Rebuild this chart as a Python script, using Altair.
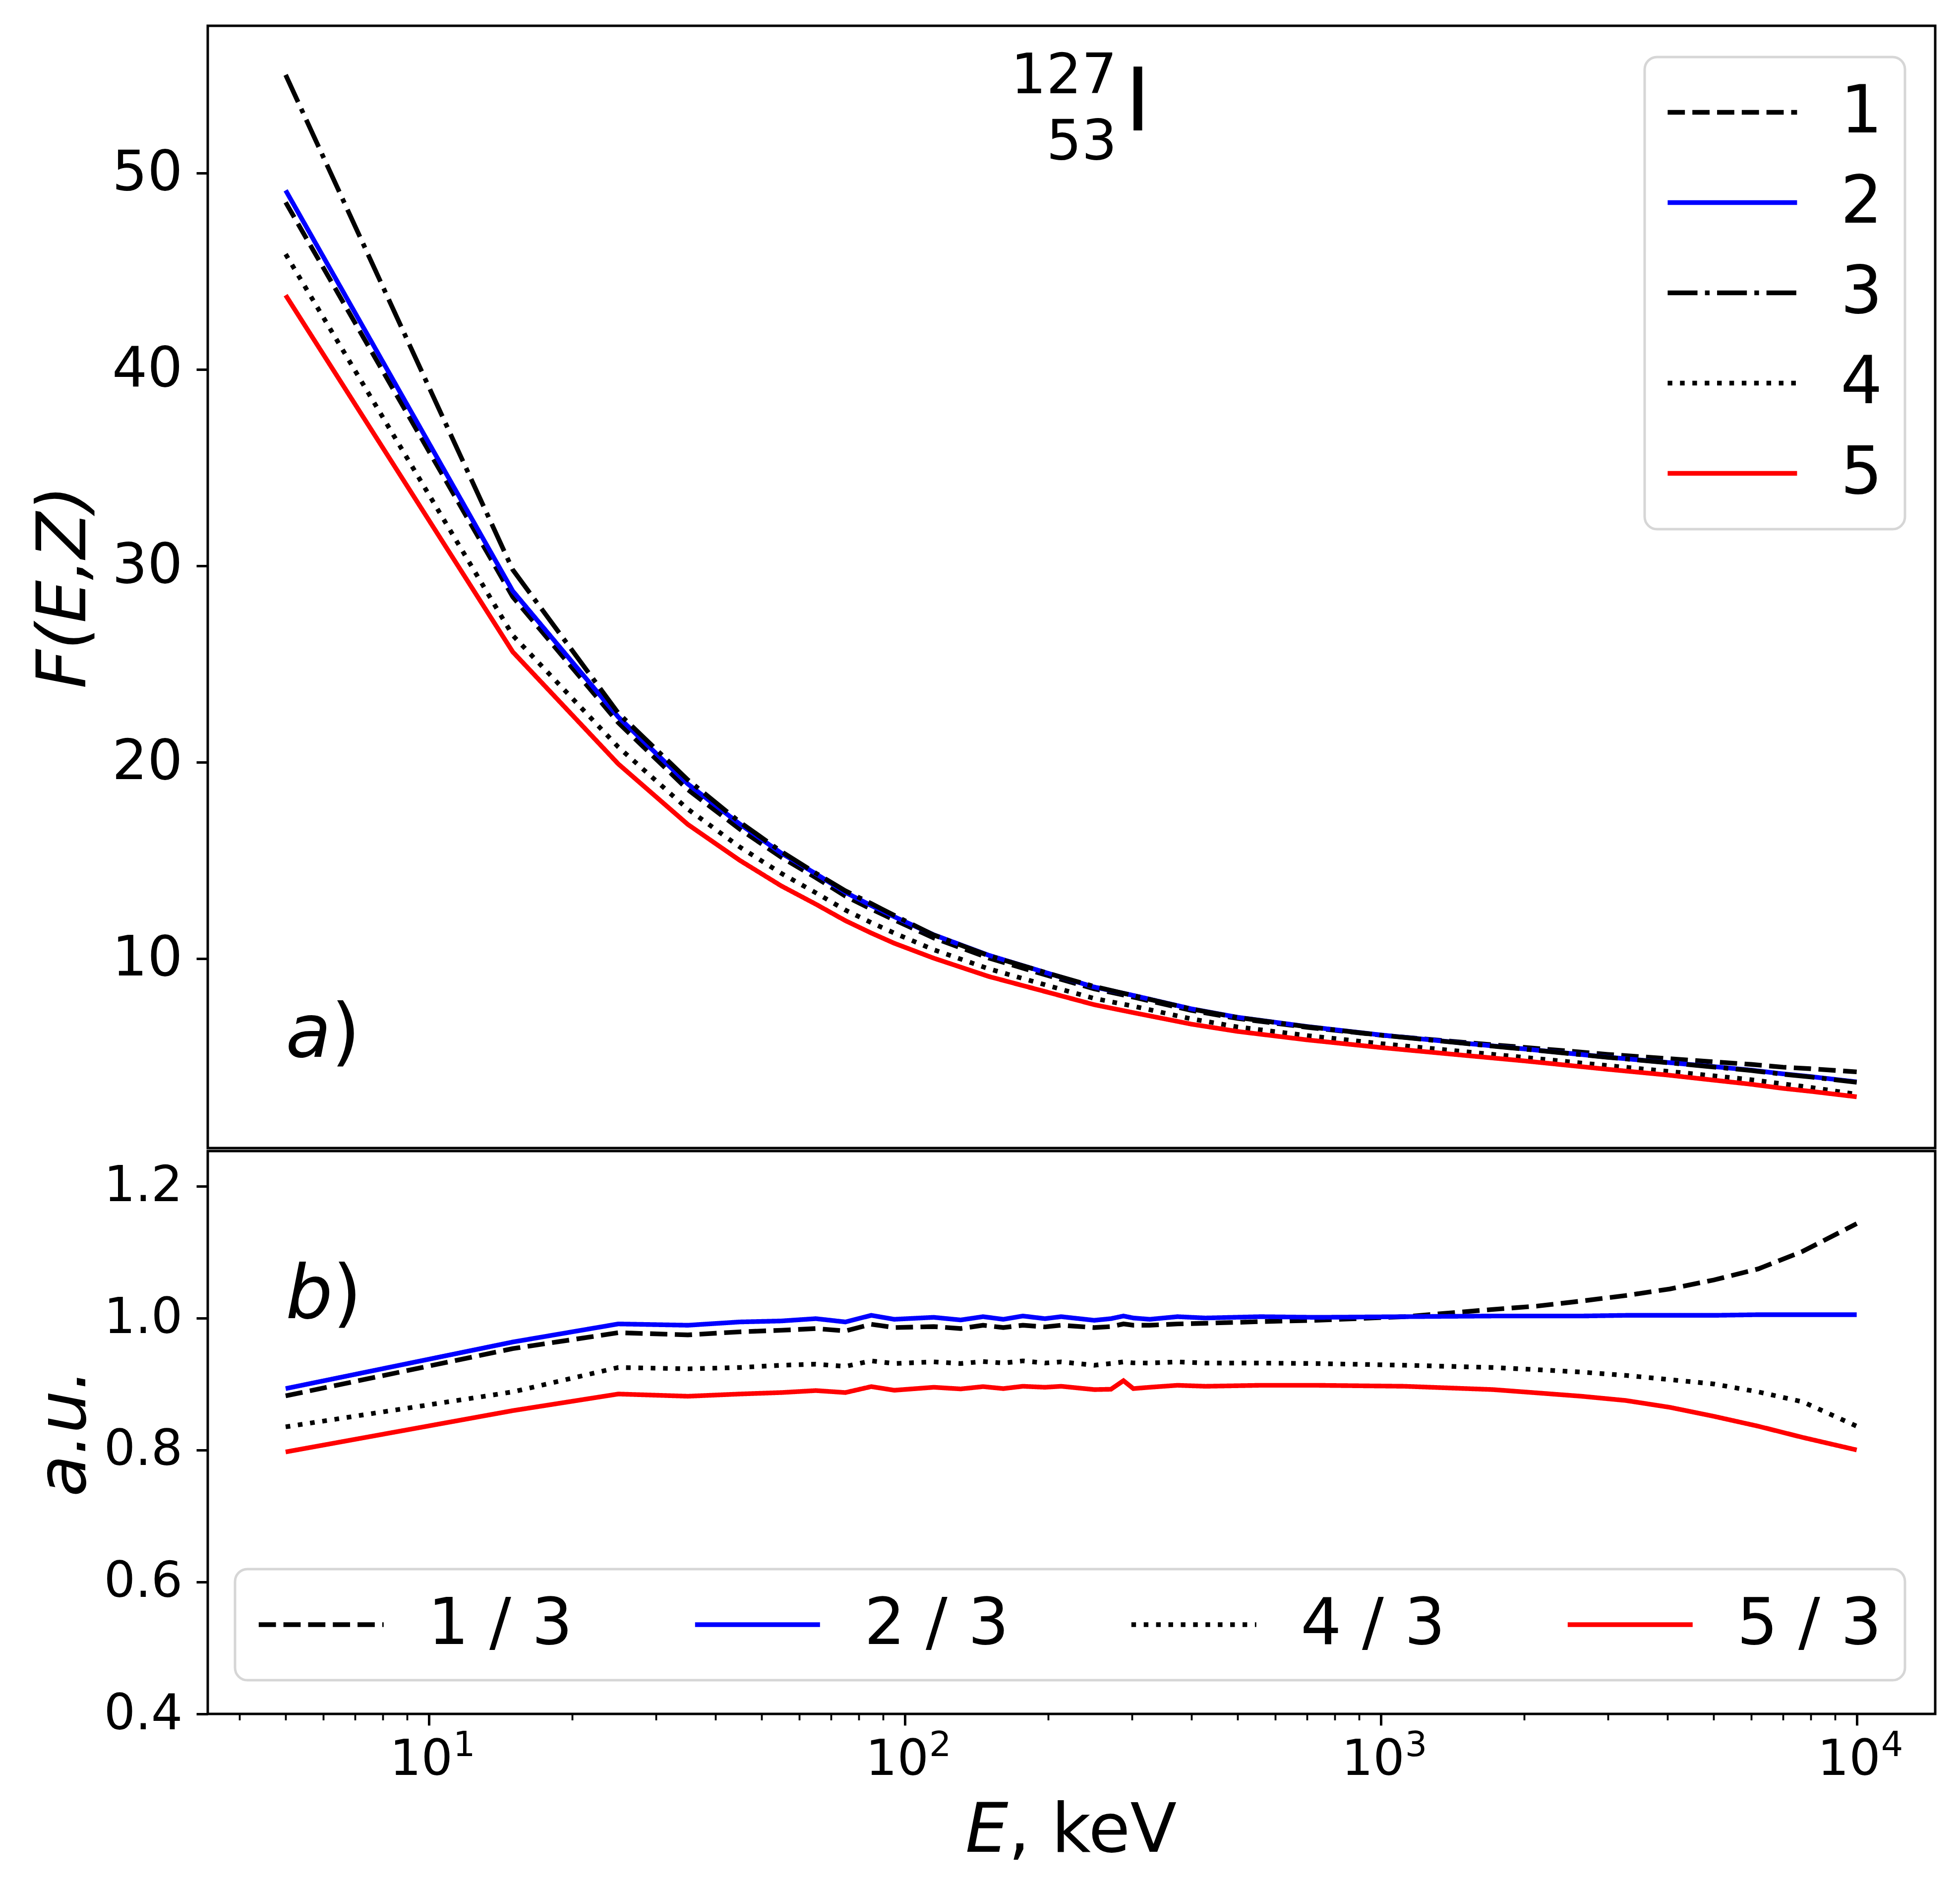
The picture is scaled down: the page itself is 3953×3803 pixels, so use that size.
import altair as alt
import pandas as pd

# ---------------- upper panel: F(E,Z) ----------------
E_top = [5, 15, 25, 35, 45, 55, 65, 75, 85, 95, 115, 150, 200, 250, 300, 400, 500,
         700, 1000, 1500, 2000, 3000, 4000, 5000, 6000, 7000, 8000, 10000]
F1 = [48.51, 28.42, 22.01, 18.60, 16.59, 15.16, 14.12, 13.18, 12.52, 11.97, 11.05, 10.03,
      9.13, 8.46, 8.05, 7.36, 6.95, 6.50, 6.10, 5.73, 5.48, 5.12, 4.91, 4.74, 4.61, 4.47, 4.39, 4.23]
F2 = [49.12, 28.72, 22.30, 18.89, 16.85, 15.37, 14.32, 13.37, 12.70, 12.13, 11.21, 10.17,
      9.25, 8.55, 8.14, 7.44, 7.01, 6.54, 6.11, 5.69, 5.40, 4.98, 4.71, 4.50, 4.32, 4.13, 3.99, 3.72]
F3 = [55.0, 29.8, 22.5, 19.1, 16.95, 15.45, 14.35, 13.45, 12.8, 12.2, 11.2, 10.15,
      9.25, 8.58, 8.13, 7.43, 7.0, 6.53, 6.1, 5.68, 5.39, 4.97, 4.70, 4.48, 4.30, 4.11, 3.97, 3.70]
F4 = [45.87, 26.46, 20.77, 17.61, 15.68, 14.34, 13.35, 12.47, 11.83, 11.30, 10.45, 9.48,
      8.62, 7.97, 7.59, 6.93, 6.52, 6.08, 5.67, 5.26, 4.97, 4.55, 4.26, 4.03, 3.83, 3.62, 3.44, 3.09]
F5 = [43.78, 25.62, 19.91, 16.83, 15.00, 13.70, 12.77, 11.93, 11.30, 10.78, 10.02, 9.09,
      8.28, 7.65, 7.26, 6.66, 6.29, 5.86, 5.47, 5.07, 4.79, 4.36, 4.07, 3.81, 3.60, 3.39, 3.24, 2.96]

# ---------------- lower panel: ratios ----------------
E_bot = [5, 15, 25, 35, 45, 55, 65, 75, 85, 95, 115, 131, 146, 161, 177, 197, 213, 250,
         271, 288, 302, 327, 374, 428, 559, 731, 1122, 1720, 2130, 2640, 3270, 4050,
         5010, 6210, 7700, 10000]
R13 = [0.882, 0.9536, 0.9777, 0.9744, 0.979, 0.9814, 0.984, 0.9804, 0.9905, 0.9855, 0.987,
       0.984, 0.989, 0.9855, 0.989, 0.9865, 0.989, 0.9855, 0.987, 0.991, 0.989, 0.989, 0.991,
       0.992, 0.9945, 0.9965, 1.002, 1.013, 1.018, 1.0257, 1.034, 1.044, 1.0576, 1.0744,
       1.101, 1.143]
R23 = [0.893, 0.9636, 0.991, 0.989, 0.994, 0.9955, 0.999, 0.994, 1.004, 0.998, 1.001, 0.997,
       1.002, 0.998, 1.003, 0.999, 1.002, 0.9965, 0.999, 1.003, 1.000, 0.998, 1.002, 1.000,
       1.002, 1.001, 1.002, 1.003, 1.003, 1.003, 1.004, 1.004, 1.004, 1.005, 1.005, 1.005]
R43 = [0.835, 0.888, 0.925, 0.923, 0.925, 0.9284, 0.930, 0.9267, 0.935, 0.931, 0.9335, 0.931,
       0.934, 0.9317, 0.935, 0.9317, 0.9335, 0.9284, 0.931, 0.9335, 0.932, 0.9317, 0.9335,
       0.9317, 0.9317, 0.931, 0.9284, 0.925, 0.9217, 0.918, 0.913, 0.9066, 0.900, 0.888,
       0.873, 0.836]
R53 = [0.797, 0.8596, 0.8848, 0.8814, 0.8848, 0.887, 0.890, 0.887, 0.896, 0.8905, 0.895,
       0.8925, 0.896, 0.893, 0.8965, 0.895, 0.8965, 0.8915, 0.892, 0.905, 0.893, 0.895, 0.898,
       0.8965, 0.898, 0.898, 0.8965, 0.8915, 0.8865, 0.8814, 0.875, 0.8646, 0.851, 0.836,
       0.819, 0.800]

top_names = ["1", "2", "3", "4", "5"]
top_colors = ["#000000", "#0000ff", "#000000", "#000000", "#ff0000"]
bot_names = ["1 / 3", "2 / 3", "4 / 3", "5 / 3"]
bot_colors = ["#000000", "#0000ff", "#000000", "#ff0000"]

LW = 9.4
DASHED = [3.7 * LW, 1.6 * LW]
SOLID = [1, 0]
DASHDOT = [6.4 * LW, 1.6 * LW, 1.0 * LW, 1.6 * LW]
DOTTED = [1.0 * LW, 1.65 * LW]
top_dash = [DASHED, SOLID, DASHDOT, DOTTED, SOLID]
bot_dash = [DASHED, SOLID, DOTTED, SOLID]

x_major = [10, 100, 1000, 10000]
x_exponents = ["1", "2", "3", "4"]
x_ticks = [4, 5, 6, 7, 8, 9, 10, 20, 30, 40, 50, 60, 70, 80, 90, 100, 200, 300, 400, 500,
           600, 700, 800, 900, 1000, 2000, 3000, 4000, 5000, 6000, 7000, 8000, 9000, 10000]

rows = []
for name, vals in zip(top_names, [F1, F2, F3, F4, F5]):
    for e, v in zip(E_top, vals):
        rows.append({"E": e, "F": v, "series": name})
df_top = pd.DataFrame(rows)

rows = []
for name, vals in zip(bot_names, [R13, R23, R43, R53]):
    for e, v in zip(E_bot, vals):
        rows.append({"E": e, "R": v, "series": name})
df_bot = pd.DataFrame(rows)

FONT = "DejaVu Sans"
W = 3484
H_TOP = 2263
H_BOT = 1135
X_DOMAIN = [3.43, 14620]

xscale = alt.Scale(type="log", domain=X_DOMAIN, nice=False)

# legend symbol: horizontal segment drawn from a custom path (length = 5*sqrt(size))
SYM_PATH = "M-1,0H9"
legend_common = dict(
    title=None, orient="none", symbolType=SYM_PATH, symbolStrokeWidth=LW,
    labelFont=FONT, labelColor="black", fillColor="white", strokeColor="#d6d6d6",
    cornerRadius=25, labelLimit=0,
)

top_legend = alt.Legend(
    legendX=2898, legendY=63, direction="vertical", symbolSize=2725,
    labelFontSize=133, labelOffset=256, symbolOffset=-39, padding=45, rowPadding=48,
    **legend_common
)
bot_legend = alt.Legend(
    legendX=55, legendY=843, direction="horizontal", columns=4, columnPadding=228,
    symbolSize=2540, labelFontSize=130, labelOffset=251, symbolOffset=-39, padding=47,
    **legend_common
)

top_lines = alt.Chart(df_top).mark_line(strokeWidth=LW, clip=True).encode(
    x=alt.X("E:Q", scale=xscale, axis=None),
    y=alt.Y("F:Q", scale=alt.Scale(domain=[0.35, 57.5], nice=False, zero=False),
            axis=alt.Axis(values=[10, 20, 30, 40, 50], title="F(E,Z)", labelFontSize=112,
                          labelPadding=28, titleFontSize=137, titleFontStyle="italic",
                          titleFontWeight="normal", titleX=-248, titleBaseline="alphabetic",
                          titleAngle=270, grid=False)),
    color=alt.Color("series:N", scale=alt.Scale(domain=top_names, range=top_colors),
                    legend=top_legend),
    strokeDash=alt.StrokeDash("series:N", scale=alt.Scale(domain=top_names, range=top_dash),
                              legend=top_legend),
)

# annotations (upper)
ann_top_a = pd.DataFrame({"E": [5], "F": [5.0], "t": ["a"]})
ann_top_p = pd.DataFrame({"E": [5], "F": [5.0], "t": [")"]})
a_text = alt.Chart(ann_top_a).mark_text(font=FONT, fontSize=150, fontStyle="italic",
                                        align="left", baseline="alphabetic", color="black").encode(
    x=alt.X("E:Q", scale=xscale), y=alt.Y("F:Q"), text="t:N")
a_par = alt.Chart(ann_top_p).mark_text(font=FONT, fontSize=150, align="left",
                                       baseline="alphabetic", dx=92, color="black").encode(
    x=alt.X("E:Q", scale=xscale), y=alt.Y("F:Q"), text="t:N")

nuc_sup = pd.DataFrame({"E": [279], "F": [54.07], "t": ["127"]})
nuc_sub = pd.DataFrame({"E": [279], "F": [50.71], "t": ["53"]})
nuc_el = pd.DataFrame({"E": [290], "F": [52.17], "t": ["I"]})
sup_text = alt.Chart(nuc_sup).mark_text(font=FONT, fontSize=112, align="right",
                                        baseline="alphabetic", color="black").encode(
    x=alt.X("E:Q", scale=xscale), y=alt.Y("F:Q"), text="t:N")
sub_text = alt.Chart(nuc_sub).mark_text(font=FONT, fontSize=112, align="right",
                                        baseline="alphabetic", color="black").encode(
    x=alt.X("E:Q", scale=xscale), y=alt.Y("F:Q"), text="t:N")
el_text = alt.Chart(nuc_el).mark_text(font=FONT, fontSize=177, align="left",
                                      baseline="alphabetic", color="black").encode(
    x=alt.X("E:Q", scale=xscale), y=alt.Y("F:Q"), text="t:N")

top = alt.layer(top_lines, a_text, a_par, sup_text, sub_text, el_text).properties(
    width=W, height=H_TOP)

# lower panel
major_test = "indexof([10, 100, 1000, 10000], datum.value) >= 0"
label_expr = "indexof([10, 100, 1000, 10000], datum.value) >= 0 ? '10' : ''"

bot_lines = alt.Chart(df_bot).mark_line(strokeWidth=LW, clip=True).encode(
    x=alt.X("E:Q", scale=xscale,
            axis=alt.Axis(values=x_ticks, labelExpr=label_expr, title=None, labelFontSize=100,
                          labelPadding=20, labelOffset=-16, labelOverlap=False,
                          labelFlush=False, labelBound=False, grid=False,
                          tickSize={"condition": {"test": major_test, "value": 23}, "value": 12.5},
                          tickWidth={"condition": {"test": major_test, "value": 5}, "value": 3.75})),
    y=alt.Y("R:Q", scale=alt.Scale(domain=[0.4, 1.253], nice=False, zero=False),
            axis=alt.Axis(values=[0.4, 0.6, 0.8, 1.0, 1.2], format=".1f", title="a.u.",
                          labelFontSize=100, labelPadding=28, labelFlush=False,
                          labelOverlap=False, titleFontSize=137, titleFontStyle="italic",
                          titleFontWeight="normal", titleX=-248, titleBaseline="alphabetic",
                          titleAngle=270, grid=False)),
    color=alt.Color("series:N", scale=alt.Scale(domain=bot_names, range=bot_colors),
                    legend=bot_legend),
    strokeDash=alt.StrokeDash("series:N", scale=alt.Scale(domain=bot_names, range=bot_dash),
                              legend=bot_legend),
)

# exponents of the x tick labels (10^k)
exp_df = pd.DataFrame({"E": x_major, "R": [0.336] * 4, "t": x_exponents})
exp_text = alt.Chart(exp_df).mark_text(font=FONT, fontSize=70, align="left",
                                       baseline="alphabetic", dx=49, color="black").encode(
    x=alt.X("E:Q", scale=xscale), y=alt.Y("R:Q"), text="t:N")

ann_b = pd.DataFrame({"E": [5], "R": [1.0], "t": ["b"]})
ann_bp = pd.DataFrame({"E": [5], "R": [1.0], "t": [")"]})
b_text = alt.Chart(ann_b).mark_text(font=FONT, fontSize=150, fontStyle="italic",
                                    align="left", baseline="alphabetic", color="black").encode(
    x=alt.X("E:Q", scale=xscale), y=alt.Y("R:Q"), text="t:N")
b_par = alt.Chart(ann_bp).mark_text(font=FONT, fontSize=150, align="left",
                                    baseline="alphabetic", dx=95, color="black").encode(
    x=alt.X("E:Q", scale=xscale), y=alt.Y("R:Q"), text="t:N")

xt_E = pd.DataFrame({"E": [165], "R": [0.191], "t": ["E"]})
xt_rest = pd.DataFrame({"E": [165], "R": [0.191], "t": [", keV"]})
xt1 = alt.Chart(xt_E).mark_text(font=FONT, fontSize=137, fontStyle="italic", align="right",
                                baseline="alphabetic", color="black").encode(
    x=alt.X("E:Q", scale=xscale), y=alt.Y("R:Q"), text="t:N")
xt2 = alt.Chart(xt_rest).mark_text(font=FONT, fontSize=137, align="left",
                                   baseline="alphabetic", color="black").encode(
    x=alt.X("E:Q", scale=xscale), y=alt.Y("R:Q"), text="t:N")

bottom = alt.layer(bot_lines, exp_text, b_text, b_par, xt1, xt2).properties(
    width=W, height=H_BOT)

chart = alt.vconcat(top, bottom, spacing=0).resolve_scale(
    color="independent", strokeDash="independent", y="independent", x="independent"
).resolve_legend(color="independent", strokeDash="independent").properties(
    padding={"left": 50, "top": 41, "right": 20, "bottom": 20}, background="white"
).configure_view(stroke="black", strokeWidth=5).configure_axis(
    domain=False, tickColor="black", tickWidth=5, tickSize=23, labelColor="black",
    titleColor="black", labelFont=FONT, titleFont=FONT
).configure_legend(strokeWidth=5).configure_text(font=FONT)

chart.save("out.html", embed_options={"renderer": "svg", "actions": False})
